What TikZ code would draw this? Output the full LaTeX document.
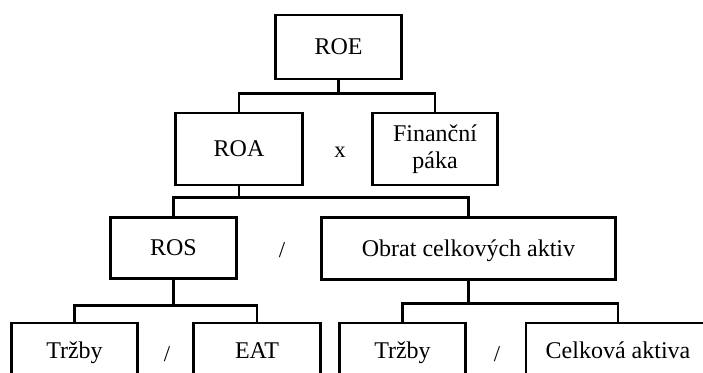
\documentclass[tikz,border=0pt]{standalone}
\usepackage{fontspec}
\setmainfont{Liberation Serif}
\usepackage{tikz}
\usetikzlibrary{positioning}
\tikzset{
  box/.style={draw=black, line width=2.2pt, fill=white, align=center, font=\fontsize{18}{20}\selectfont,
              minimum width=95pt, minimum height=46pt, inner sep=2pt},
  one/.style={box, text height=12pt, text depth=0pt},
  link/.style={draw=black, line width=2.2pt},
  op/.style={font=\fontsize{17}{20}\selectfont},
}

\begin{document}
\begin{tikzpicture}[x=0.75pt, y=-0.75pt]
  % picture area = 703 x 373 px, y counted downwards
  \useasboundingbox (0,0) rectangle (703,373);
  \clip (0,0) rectangle (703,373);
  % level 0
  \node[one, minimum height=48pt] (roe) at (338.5,47) {ROE};
  % level 1
  \node[one, minimum height=54pt] (roa) at (239,149) {ROA};
  \node[box, minimum height=54pt, minimum width=94pt] (fin) at (435,149) {Finanční\\páka};
  \node[op] (x1) at (340,152) {x};
  % level 2
  \node[one] (ros) at (173.5,248) {ROS};
  \node[one, minimum width=221pt] (obrat) at (468.5,248.5) {Obrat celkových aktiv};
  \node[op] (d1) at (282,250) {/};
  % level 3, cut off by the lower edge
  \node[one, minimum height=42pt] (trz1) at (74.5,351) {Tržby};
  \node[one, minimum height=42pt] (eat) at (257,351) {EAT};
  \node[op] (d2) at (167,354) {/};
  \node[one, minimum height=42pt] (trz2) at (402.5,351) {Tržby};
  \node[one, minimum height=42pt, minimum width=138pt] (aktiva) at (618,351) {Celková aktiva};
  \node[op] (d3) at (497,354) {/};
  % connectors
  \foreach \p/\l/\r/\d in {roe/roa/fin/13, roa/ros/obrat/11, ros/trz1/eat/25, obrat/trz2/aktiva/23} {
    \draw[link] (\p.south) -- ++(0,\d) coordinate (bar) -| (\l.north) (bar) -| (\r.north);
  }
\end{tikzpicture}
\end{document}
